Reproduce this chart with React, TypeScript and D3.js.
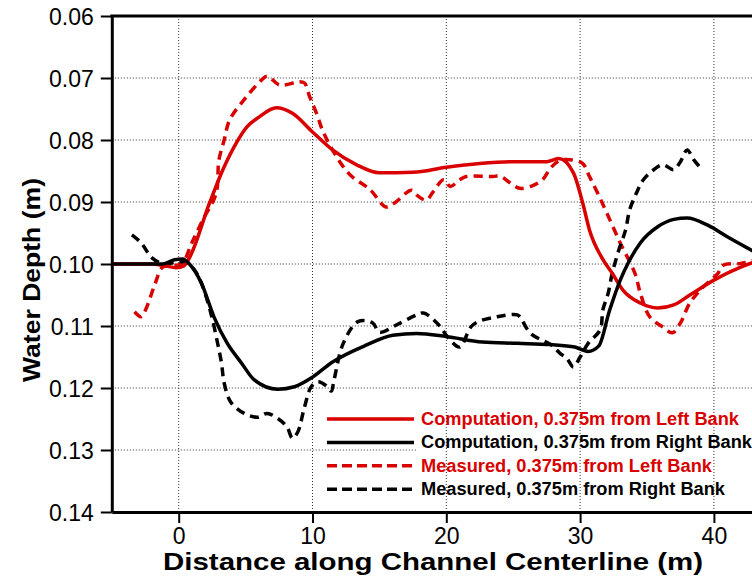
import React, { useEffect, useRef } from "react";
import * as d3 from "d3";

// Computation, 0.375m from Left Bank
const compLeftX = [-5, -2, -1, -0.2, 0.4, 0.8, 2.3, 3.3, 4.3, 5.1, 6.0, 7.3, 8.5, 10, 11.5, 13.3, 15, 17.5, 20, 22.5, 25, 27.5, 28.4, 29.5, 30.2, 30.7, 31.6, 32.4, 33.2, 34.5, 35.8, 37, 38.2, 40, 42, 43];
const compLeftY = [0.1, 0.1, 0.1003, 0.1006, 0.1003, 0.099, 0.0902, 0.0848, 0.0805, 0.0779, 0.0763, 0.0748, 0.0757, 0.0787, 0.0816, 0.084, 0.0853, 0.0852, 0.0844, 0.0838, 0.0835, 0.0835, 0.083, 0.0853, 0.0902, 0.0945, 0.0989, 0.1015, 0.1042, 0.1063, 0.1071, 0.1066, 0.105, 0.1026, 0.1005, 0.0997];

// Computation, 0.375m from Right Bank
const compRightX = [-5, -1.2, -0.3, 0.3, 0.8, 1.7, 2.65, 3.6, 4.7, 5.65, 7.4, 8.65, 9.9, 11.5, 14, 16, 17.8, 20, 22.7, 25.3, 27.8, 29.6, 30.6, 31.4, 32.2, 33, 33.7, 34.5, 35.8, 37, 38, 39.5, 41, 43];
const compRightY = [0.1, 0.1, 0.0993, 0.0992, 0.1, 0.1031, 0.1086, 0.1127, 0.116, 0.1187, 0.1202, 0.1198, 0.1184, 0.1158, 0.1131, 0.1115, 0.1112, 0.1117, 0.1126, 0.1128, 0.113, 0.1134, 0.1141, 0.1132, 0.1075, 0.1026, 0.0994, 0.0966, 0.094, 0.0928, 0.0926, 0.0937, 0.0956, 0.098];

// Measured, 0.375m from Left Bank
const measLeftX = [-3.3, -2.8, -2.4, -1.8, -1.2, -0.5, 0.25, 1.0, 1.8, 2.8, 3.0, 3.4, 3.8, 5.0, 6.2, 6.6, 7.5, 8.0, 9.0, 9.4, 9.8, 10.3, 10.8, 11.8, 12.8, 14.3, 15.5, 16.1, 17.4, 17.8, 18.5, 19.0, 19.8, 20.3, 21.0, 21.5, 23.5, 24.0, 25.0, 25.5, 26.5, 27.2, 27.8, 28.5, 29.3, 30.2, 30.7, 31.3, 32.0, 33.0, 34.1, 34.5, 35.2, 36.2, 36.9, 37.5, 38.2, 39.2, 40.3, 40.7, 42.0, 43.0];
const measLeftY = [0.1077, 0.1085, 0.107, 0.1034, 0.1005, 0.1003, 0.0999, 0.0965, 0.0929, 0.0886, 0.0833, 0.08, 0.0768, 0.0732, 0.0703, 0.0697, 0.0711, 0.0711, 0.0706, 0.0708, 0.0731, 0.0757, 0.0787, 0.0827, 0.0856, 0.088, 0.0908, 0.0902, 0.0881, 0.0889, 0.0897, 0.0884, 0.0864, 0.0875, 0.0864, 0.0859, 0.0859, 0.0858, 0.0873, 0.0878, 0.0873, 0.0864, 0.0845, 0.0833, 0.0832, 0.0838, 0.0859, 0.0885, 0.0918, 0.0966, 0.1015, 0.1047, 0.1085, 0.1102, 0.1111, 0.1095, 0.1063, 0.1037, 0.1015, 0.1002, 0.0999, 0.0994];

// Measured, 0.375m from Right Bank
const measRightX = [-3.5, -2.8, -2.0, -1.1, 0.0, 0.6, 1.2, 1.7, 2.4, 2.9, 3.2, 3.4, 3.9, 4.9, 5.9, 6.6, 7.4, 8.1, 8.5, 8.9, 9.4, 9.9, 10.4, 11.0, 11.4, 11.6, 12.3, 13.4, 14.5, 15.0, 16.3, 17.8, 18.3, 19.3, 20.3, 21.0, 22.0, 23.8, 25.3, 25.5, 26.3, 27.8, 28.5, 29.0, 29.5, 30.0, 30.6, 31.5, 31.7, 32.1, 32.4, 32.9, 33.4, 33.7, 34.2, 34.7, 35.5, 36.2, 37.0, 37.5, 38.0, 38.5, 39.0];
const measRightY = [0.0953, 0.0966, 0.099, 0.1, 0.0996, 0.0998, 0.101, 0.1031, 0.1079, 0.1127, 0.116, 0.1192, 0.1223, 0.1241, 0.1247, 0.1241, 0.1249, 0.1263, 0.1281, 0.1271, 0.1231, 0.1198, 0.119, 0.1196, 0.1205, 0.1188, 0.1128, 0.1093, 0.1095, 0.111, 0.1098, 0.1082, 0.1079, 0.1095, 0.1123, 0.1134, 0.1098, 0.1085, 0.1082, 0.1085, 0.1112, 0.113, 0.1144, 0.1152, 0.1166, 0.115, 0.1128, 0.1106, 0.1074, 0.1047, 0.1015, 0.0977, 0.0945, 0.0913, 0.0886, 0.0865, 0.0848, 0.084, 0.0848, 0.0835, 0.0816, 0.0832, 0.0845];

const xMajor = [0, 10, 20, 30, 40];
const yMajor = [0.06, 0.07, 0.08, 0.09, 0.1, 0.11, 0.12, 0.13, 0.14];
const legendLabels = [
  "Computation, 0.375m from Left Bank",
  "Computation, 0.375m from Right Bank",
  "Measured, 0.375m from Left Bank",
  "Measured, 0.375m from Right Bank",
];

const RED = "#d90000";
const FONT = "'Liberation Sans', Arial, sans-serif";

export default function App() {
  const ref = useRef<SVGSVGElement>(null);

  useEffect(() => {
    const W = 752;
    const left = 111.8, top = 16, bottom = 512;
    const svg = d3.select(ref.current);
    svg.selectAll("*").remove();

    const x = d3.scaleLinear().domain([-5, 43]).range([left, left + 48 * 13.38]);
    const y = d3.scaleLinear().domain([0.06, 0.14]).range([top, bottom]);

    svg.append("defs").append("clipPath").attr("id", "plotclip")
      .append("rect").attr("x", left).attr("y", top).attr("width", W - left).attr("height", bottom - top);

    // grid: horizontal lines, legend backing, then vertical lines
    const grid = svg.append("g").attr("stroke", "#333").attr("stroke-width", 1).attr("stroke-dasharray", "1,2");
    grid.selectAll(".gy").data(yMajor.slice(1, -1)).enter().append("line")
      .attr("x1", left).attr("x2", W).attr("y1", (d) => y(d)).attr("y2", (d) => y(d));
    svg.append("rect").attr("x", 416).attr("y", 405).attr("width", W - 416).attr("height", 95).attr("fill", "#fff");
    const gridV = svg.append("g").attr("stroke", "#333").attr("stroke-width", 1).attr("stroke-dasharray", "1,2");
    gridV.selectAll(".gx").data(xMajor).enter().append("line")
      .attr("y1", top).attr("y2", bottom).attr("x1", (d) => x(d)).attr("x2", (d) => x(d));

    // series
    const plot = svg.append("g").attr("clip-path", "url(#plotclip)").attr("fill", "none");
    const mk = (xs: number[], ys: number[]) => xs.map((v, i) => [v, ys[i]] as [number, number]);
    const smooth = d3.line<[number, number]>().x((d) => x(d[0])).y((d) => y(d[1])).curve(d3.curveMonotoneX);
    const measured = d3.line<[number, number]>().x((d) => x(d[0])).y((d) => y(d[1])).curve(d3.curveCatmullRom.alpha(0.5));

    plot.append("path").attr("d", measured(mk(measLeftX, measLeftY)))
      .attr("stroke", RED).attr("stroke-width", 3.5).attr("stroke-dasharray", "9,6");
    plot.append("path").attr("d", measured(mk(measRightX, measRightY)))
      .attr("stroke", "#000").attr("stroke-width", 3.5).attr("stroke-dasharray", "9,6");
    plot.append("path").attr("d", smooth(mk(compLeftX, compLeftY)))
      .attr("stroke", RED).attr("stroke-width", 3.5);
    plot.append("path").attr("d", smooth(mk(compRightX, compRightY)))
      .attr("stroke", "#000").attr("stroke-width", 3.5);

    // axes
    const yMinor = d3.range(0.06, 0.1401, 0.002).filter((v) => Math.abs(Math.round(v * 100) - v * 100) > 1e-6);
    const xMinor = d3.range(-4, 43, 2).filter((v) => v % 10 !== 0);

    const yAx = svg.append("g").attr("transform", `translate(${left},0)`);
    yAx.call(d3.axisLeft(y).tickValues(yMinor).tickSize(6).tickSizeOuter(0).tickFormat(() => ""));
    yAx.call(d3.axisLeft(y).tickValues(yMajor).tickSize(11).tickSizeOuter(0).tickPadding(7).tickFormat(d3.format(".2f")));

    const xAx = svg.append("g").attr("transform", `translate(0,${bottom})`);
    xAx.call(d3.axisBottom(x).tickValues(xMinor).tickSize(7).tickSizeOuter(0).tickFormat(() => ""));
    xAx.call(d3.axisBottom(x).tickValues(xMajor).tickSize(11).tickSizeOuter(0).tickPadding(5).tickFormat(d3.format("d")));

    svg.selectAll(".tick line").attr("stroke", "#000").attr("stroke-width", 2);
    svg.selectAll(".domain").attr("stroke", "#000").attr("stroke-width", 3);
    svg.selectAll(".tick text").attr("font-family", FONT).attr("font-size", 23).attr("fill", "#000");
    yAx.selectAll(".tick text").attr("dy", "0.35em");

    svg.append("line").attr("x1", left - 1.5).attr("x2", W).attr("y1", top).attr("y2", top)
      .attr("stroke", "#000").attr("stroke-width", 3);

    // titles
    svg.append("text").attr("x", 433).attr("y", 570).attr("text-anchor", "middle")
      .attr("font-family", FONT).attr("font-weight", "bold").attr("font-size", 24)
      .attr("textLength", 540).attr("lengthAdjust", "spacingAndGlyphs")
      .text("Distance along Channel Centerline (m)");
    svg.append("text").attr("transform", "translate(40,280) rotate(-90)").attr("text-anchor", "middle")
      .attr("font-family", FONT).attr("font-weight", "bold").attr("font-size", 24)
      .attr("textLength", 204).attr("lengthAdjust", "spacingAndGlyphs")
      .text("Water Depth (m)");

    // legend
    const legColors = [RED, "#000", RED, "#000"];
    const legDash = [null, null, "10,5", "10,5"];
    const legLen = [318, 331, 291, 304];
    const leg = svg.append("g");
    legendLabels.forEach((lab, i) => {
      const by = 425 + i * 23.4;
      leg.append("line").attr("x1", 327).attr("x2", 414).attr("y1", by - 6).attr("y2", by - 6)
        .attr("stroke", legColors[i]).attr("stroke-width", 3.5).attr("stroke-dasharray", legDash[i]);
      leg.append("text").attr("x", 421).attr("y", by).attr("fill", legColors[i])
        .attr("font-family", FONT).attr("font-weight", "bold").attr("font-size", 18)
        .attr("textLength", legLen[i]).attr("lengthAdjust", "spacingAndGlyphs").text(lab);
    });
  }, []);

  return (
    <div style={{ position: "absolute", left: 0, top: 0, width: 752, height: 584, background: "#fff" }}>
      <svg ref={ref} width={752} height={584} style={{ display: "block" }} />
    </div>
  );
}
